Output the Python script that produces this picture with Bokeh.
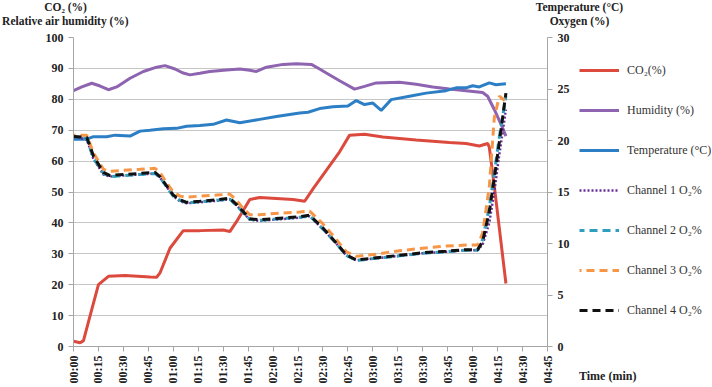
import math
from bokeh.plotting import figure
from bokeh.layouts import column, row
from bokeh.models import Range1d, LinearAxis, FixedTicker, Legend, LegendItem, ColumnDataSource
from bokeh.core.properties import value
from bokeh.embed import file_html
from bokeh.resources import INLINE

# ---------------- data ----------------
x_ticks = [0, 15, 30, 45, 60, 75, 90, 105, 120, 135, 150, 165, 180, 195, 210, 225, 240, 255, 270, 285]
x_tick_labels = ["00:00", "00:15", "00:30", "00:45", "01:00", "01:15", "01:30", "01:45", "02:00", "02:15",
                 "02:30", "02:45", "03:00", "03:15", "03:30", "03:45", "04:00", "04:15", "04:30", "04:45"]
left_ticks = [0, 10, 20, 30, 40, 50, 60, 70, 80, 90, 100]
right_ticks = [0, 5, 10, 15, 20, 25, 30]

t_co2 = [0, 4, 6, 10, 15, 21, 31, 46, 50, 52, 58, 66, 76, 90, 94, 98, 106, 112, 132, 139, 144, 152, 160,
         166, 175, 186, 206, 226, 236, 244, 249, 250, 253, 260]
co2 = [1.7, 1.2, 1.9, 10, 20, 22.7, 23, 22.5, 22.4, 23.8, 31.8, 37.5, 37.5, 37.7, 37.2, 40.4, 47.6, 48.2,
       47.6, 47, 51, 57, 63, 68.4, 68.7, 67.8, 66.8, 66, 65.7, 64.9, 65.7, 64.5, 52, 20.4]

t_hum = [0, 5, 11, 16, 21, 26, 34, 42, 50, 55, 61, 66, 70, 76, 82, 92, 100, 106, 110, 116, 126, 134, 143,
         148, 152, 160, 169, 175, 182, 196, 206, 216, 226, 236, 246, 249, 253, 257, 260]
humidity = [82.8, 84, 85.2, 84.3, 83.1, 84, 86.8, 89, 90.4, 90.9, 89.8, 88.5, 87.9, 88.4, 89, 89.5, 89.8,
            89.4, 89, 90.4, 91.3, 91.5, 91.3, 89.8, 88.5, 86, 83.3, 84.2, 85.3, 85.5, 84.9, 84, 83.3, 82.8,
            82.2, 81, 76.7, 72, 68.1]

t_temp = [0, 8, 12, 20, 25, 34, 40, 46, 54, 62, 68, 76, 84, 92, 100, 112, 122, 130, 136, 141, 148, 156,
          165, 170, 175, 180, 185, 191, 202, 212, 224, 230, 236, 240, 244, 250, 254, 260]
temperature = [20.13, 20.13, 20.37, 20.37, 20.52, 20.43, 20.91, 21.0, 21.15, 21.18, 21.39, 21.45, 21.57,
               21.99, 21.72, 22.05, 22.32, 22.53, 22.68, 22.74, 23.1, 23.28, 23.34, 23.88, 23.49, 23.64,
               22.92, 23.97, 24.3, 24.6, 24.84, 25.11, 25.11, 25.32, 25.2, 25.59, 25.41, 25.5]

t_o2 = [0, 8, 12, 18, 22, 30, 40, 49, 52, 56, 60, 64, 68, 76, 86, 94, 98, 102, 106, 112, 124, 136, 142,
        150, 158, 164, 170, 184, 196, 210, 224, 236, 243, 246, 250, 253, 256, 260]
ch1 = [20.4, 20.1, 18.2, 16.7, 16.5, 16.6, 16.7, 16.8, 16.4, 15.5, 14.6, 14.1, 13.9, 14.0, 14.15, 14.3,
       13.7, 13.0, 12.3, 12.2, 12.35, 12.5, 12.65, 11.4, 10.0, 8.85, 8.35, 8.6, 8.8, 9.05, 9.2, 9.35, 9.35,
       9.9, 12.0, 15.0, 18.6, 23.0]
ch2 = [20.4, 20.2, 18.3, 16.8, 16.5, 16.6, 16.7, 16.8, 16.4, 15.5, 14.6, 14.2, 13.95, 14.05, 14.2, 14.3,
       13.7, 13.0, 12.35, 12.25, 12.4, 12.55, 12.7, 11.4, 10.0, 8.85, 8.35, 8.6, 8.8, 9.05, 9.2, 9.35, 9.35,
       10.4, 13.5, 16.8, 20.3, 24.3]
ch3 = [20.5, 20.5, 18.8, 17.2, 17.0, 17.1, 17.2, 17.3, 16.9, 15.9, 15.0, 14.6, 14.5, 14.6, 14.7, 14.8,
       14.2, 13.4, 12.8, 12.8, 12.95, 13.05, 13.15, 11.9, 10.4, 9.2, 8.75, 9.0, 9.3, 9.55, 9.75, 9.85, 9.85,
       11.0, 15.5, 22.2, 24.3, 23.8]
ch4 = [20.4, 20.3, 18.5, 16.9, 16.6, 16.7, 16.8, 16.9, 16.5, 15.6, 14.7, 14.25, 14.0, 14.1, 14.25, 14.4,
       13.8, 13.1, 12.4, 12.3, 12.45, 12.6, 12.75, 11.5, 10.05, 8.9, 8.4, 8.65, 8.85, 9.1, 9.25, 9.4, 9.4,
       10.2, 13.1, 16.3, 19.8, 24.6]

series_names = ["CO₂(%)", "Humidity (%)", "Temperature (°C)", "Channel 1 O₂%", "Channel 2 O₂%",
                "Channel 3 O₂%", "Channel 4 O₂%"]
left_titles = ["CO₂ (%)", "Relative air humidity (%)"]
right_titles = ["Temperature (°C)", "Oxygen (%)"]
x_title = "Time (min)"

# ---------------- styling ----------------
SERIF = "Liberation Serif"
AXIS_COLOR = "#a6a6a6"
TEXT_COLOR = "#222222"
W = 711

series = [
    (t_co2, co2, None, dict(line_color="#dc4a3e", line_width=3)),
    (t_hum, humidity, None, dict(line_color="#8e63b0", line_width=3)),
    (t_temp, temperature, "right", dict(line_color="#2d7fc5", line_width=3)),
    (t_o2, ch1, "right", dict(line_color="#6b2f9a", line_width=2.5, line_dash="2 2")),
    (t_o2, ch2, "right", dict(line_color="#2f9fbd", line_width=3, line_dash="8 5", line_dash_offset=3)),
    (t_o2, ch3, "right", dict(line_color="#f79646", line_width=3, line_dash="8 5", line_dash_offset=6)),
    (t_o2, ch4, "right", dict(line_color="#111111", line_width=3, line_dash="8 5")),
]

# ---------------- header with the axis titles ----------------
head = figure(width=W, height=30, output_backend="svg", toolbar_location=None,
              x_range=Range1d(0, W), y_range=Range1d(0, 30),
              x_axis_type=None, y_axis_type=None,
              min_border_left=0, min_border_right=0, min_border_top=0, min_border_bottom=0)
head.outline_line_color = None
head.xgrid.visible = False
head.ygrid.visible = False
head_src = ColumnDataSource(dict(
    x=[65, 65, 579, 579],
    y=[24, 10, 24, 10],
    text=[left_titles[0], left_titles[1], right_titles[0], right_titles[1]],
))
head.text(x="x", y="y", text="text", source=head_src, text_align="center", text_baseline="middle",
          text_font=value(SERIF), text_font_style="bold", text_font_size="11.5px", text_color=TEXT_COLOR)

# ---------------- main chart ----------------
MAIN_W = 572
p = figure(width=MAIN_W, height=356, output_backend="svg", toolbar_location=None,
           x_range=Range1d(0, 285), y_range=Range1d(0, 100),
           min_border_left=73, min_border_right=24, min_border_top=7, min_border_bottom=39)
p.extra_y_ranges = {"right": Range1d(0, 30)}
p.outline_line_color = None

p.xgrid.visible = False
p.ygrid.ticker = FixedTicker(ticks=left_ticks)
p.ygrid.grid_line_color = "#c6c6c6"
p.ygrid.grid_line_width = 1


def style_axis(ax):
    ax.axis_line_color = AXIS_COLOR
    ax.major_tick_line_color = AXIS_COLOR
    ax.minor_tick_line_color = None
    ax.major_tick_in = 0
    ax.major_tick_out = 5
    ax.major_label_text_font = SERIF
    ax.major_label_text_font_style = "bold"
    ax.major_label_text_font_size = "12px"
    ax.major_label_text_color = TEXT_COLOR


xa = p.xaxis[0]
style_axis(xa)
xa.ticker = FixedTicker(ticks=x_ticks)
xa.major_label_overrides = {t: lab for t, lab in zip(x_ticks, x_tick_labels)}
xa.major_label_orientation = math.pi / 2
xa.major_label_standoff = 4

ya = p.yaxis[0]
style_axis(ya)
ya.ticker = FixedTicker(ticks=left_ticks)
ya.major_label_standoff = 5

ra = LinearAxis(y_range_name="right", ticker=FixedTicker(ticks=right_ticks))
style_axis(ra)
ra.major_label_standoff = 5
p.add_layout(ra, "right")

for t, v, yr, style in series:
    if yr:
        p.line(t, v, y_range_name=yr, **style)
    else:
        p.line(t, v, **style)

# ---------------- legend panel (keys reuse the same series styles) ----------------
leg = figure(width=W - MAIN_W, height=356, output_backend="svg", toolbar_location=None,
             x_range=Range1d(1000, 1001), y_range=Range1d(0, 100),
             x_axis_type=None, y_axis_type=None,
             min_border_left=7, min_border_right=0, min_border_top=30, min_border_bottom=0)
leg.outline_line_color = None
leg.xgrid.visible = False
leg.ygrid.visible = False
keys = [leg.line(t, v, **style) for t, v, yr, style in series]

legend = Legend(items=[LegendItem(label=name, renderers=[r]) for name, r in zip(series_names, keys)],
                location="top_left")
legend.padding = 10
legend.margin = 0
legend.spacing = 20
legend.glyph_width = 40
legend.glyph_height = 20
legend.label_height = 20
legend.label_standoff = 8
legend.border_line_color = None
legend.background_fill_alpha = 0
legend.label_text_font = SERIF
legend.label_text_font_size = "12px"
legend.label_text_color = "#333333"
legend.title = x_title
legend.title_location = "below"
legend.title_standoff = 49
legend.title_text_font = SERIF
legend.title_text_font_style = "bold"
legend.title_text_font_size = "12px"
legend.title_text_color = TEXT_COLOR
leg.add_layout(legend)

for fig in (head, p, leg):
    if "frame_align" in fig.properties():
        fig.frame_align = False

layout = column(head, row(p, leg, spacing=0), spacing=0)
open("out.html", "w").write(file_html(layout, INLINE))
